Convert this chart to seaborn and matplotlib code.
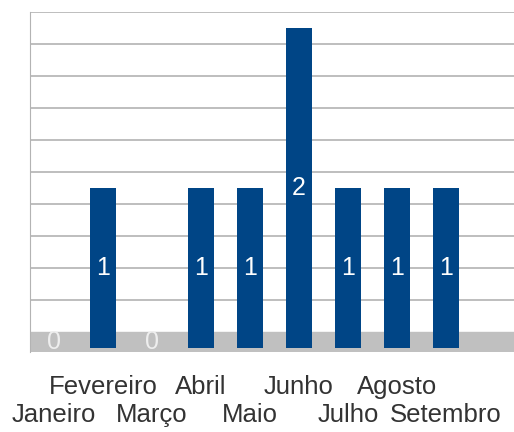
import matplotlib
matplotlib.use("Agg")
import matplotlib.pyplot as plt
import matplotlib.transforms as mtransforms
import seaborn as sns
import pandas as pd

months = ["Janeiro", "Fevereiro", "Março", "Abril", "Maio",
          "Junho", "Julho", "Agosto", "Setembro"]
counts = [0, 1, 0, 1, 1, 2, 1, 1, 1]

BLUE = "#004586"
FLOOR = -0.1  # depth of the 3D floor, bars start there


def main():
    sns.set_style("white")
    plt.rcParams['font.family'] = ['Liberation Sans', 'DejaVu Sans']

    df = pd.DataFrame({"mes": months, "n": counts})
    fig = plt.figure(figsize=(5.14, 4.32), dpi=100)
    ax = fig.add_axes([30 / 514, 1 - 352 / 432, 1 - 30 / 514, 340 / 432])

    # floor band of the pseudo-3D chart
    ax.axhspan(-0.125, 0, color="#c0c0c0", zorder=0)
    for v in [i * 0.2 for i in range(1, 11)]:
        ax.axhline(v, color="#b3b3b3", lw=1.2, zorder=0)

    sns.barplot(data=df, x="mes", y="n", color=BLUE, saturation=1,
                width=0.53, bottom=FLOOR, linewidth=0, ax=ax, zorder=2)
    ax.bar_label(ax.containers[0], labels=[str(c) for c in counts],
                 label_type="center", color="white", fontsize=18, zorder=3)
    for t, c in zip(ax.texts, counts):
        if c == 0:
            t.set_color("#eeeeee")
            t.xyann = (0, 4)

    ax.set_xlim(-0.49, 9.39)
    ax.set_ylim(-0.125, 2.0)
    ax.set_yticks([])
    ax.set_xlabel("")
    ax.set_ylabel("")
    ax.set_xticks([])
    # staggered category labels on two rows
    trans = mtransforms.blended_transform_factory(ax.transData, fig.transFigure)
    for i, m in enumerate(months):
        y = 1 - (415 if i % 2 == 0 else 387) / 432
        ax.text(i, y, m, transform=trans, ha="center", va="center",
                fontsize=18.5, color="#333333", clip_on=False)
    for s in ["top", "right", "bottom"]:
        ax.spines[s].set_visible(False)
    ax.spines["left"].set_color("#b3b3b3")

    fig.savefig("out.png", dpi=100)


if __name__ == '__main__':
    main()
